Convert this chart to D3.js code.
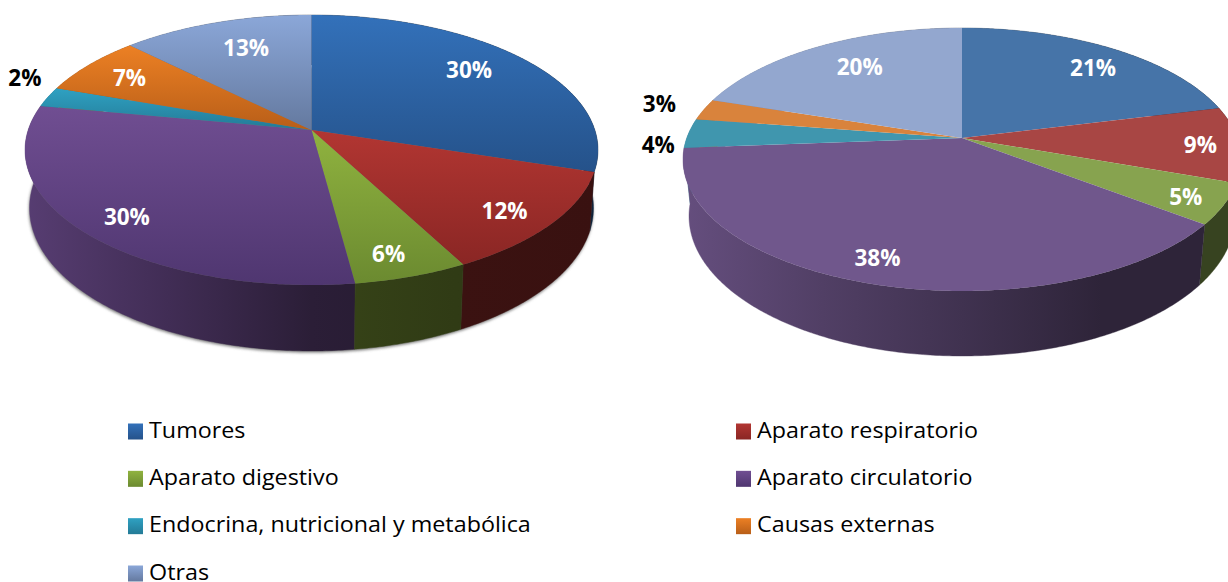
<!DOCTYPE html>
<html>
<head>
<meta charset="utf-8">
<script src="https://cdn.jsdelivr.net/npm/d3@7"></script>
<style>
    body { margin: 0; background: #fff; overflow: hidden; }
    svg { display: block; font-family: "Open Sans", sans-serif; }
</style>
</head>
<body>
<svg id="chart" width="1228" height="582"></svg>
<script>
// datos
const categories = ["Tumores", "Aparato respiratorio", "Aparato digestivo", "Aparato circulatorio",
    "Endocrina, nutricional y metabólica", "Causas externas", "Otras"];
const valuesLeft = [29.9, 12.4, 5.6, 30.1, 2.4, 7.1, 12.5];
const valuesRight = [21.1, 9.3, 5.0, 38.4, 3.6, 2.6, 20.0];

// colores
const leftTop = ["#3371ba", "#b23632", "#90b33f", "#704e92", "#2fa1c2", "#ec8024", "#8ba7d8"];
const leftBottom = ["#25528a", "#8a2624", "#6b8a30", "#4f3670", "#237a96", "#b85e18", "#64799f"];
const rightFace = ["#4674a8", "#a84644", "#87a34f", "#70578c", "#4096ae", "#d9833c", "#93a7cf"];

// etiquetas: radio relativo y giro en grados respecto al centro del sector
const labelRadiusLeft = [0.77, 0.84, 0.86, 0.845, 1.15, 0.8, 0.73];
const labelTurnLeft = [-3.1, 2, 1.5, -2, 5.9, -0.7, 2.1];
const labelRadiusRight = [0.79, 0.86, 0.87, 0.855, 1.095, 1.18, 0.73];
const labelTurnRight = [3.4, 0.9, 1.3, 1.6, -5, 0, 2];
const outsideColor = "#000";

const svg = d3.select("#chart");
const defs = svg.append("defs");

defs.append("filter")
    .attr("id", "rimShadow")
    .attr("x", "-5%").attr("y", "-5%").attr("width", "110%").attr("height", "110%")
    .append("feGaussianBlur")
    .attr("stdDeviation", 1.6);

// proyeccion en perspectiva: el vertice del sector no queda en el centro de la elipse
function projector(cx, rim, k) {
    const R = rim.rx * Math.sqrt(1 - k * k);
    const B = rim.ry * (1 - k * k);
    const apexY = rim.cy - k * rim.ry;
    return (angle, f = 1) => {
        const u = f * Math.sin(angle), v = -f * Math.cos(angle);
        const w = 1 - k * v;
        return [cx + R * u / w, apexY + B * v / w];
    };
}

function rimPoints(project, a0, a1) {
    const n = Math.max(2, Math.ceil((a1 - a0) / 0.01));
    return d3.range(n + 1).map(i => project(a0 + (a1 - a0) * i / n));
}

function faceGradient(id, top, bottom) {
    const g = defs.append("linearGradient").attr("id", id)
        .attr("x1", 0).attr("y1", 0).attr("x2", 0).attr("y2", 1);
    g.append("stop").attr("offset", 0).attr("stop-color", top);
    g.append("stop").attr("offset", 1).attr("stop-color", bottom);
}

function shade(color, f) {
    const c = d3.rgb(color);
    return d3.rgb(c.r * f, c.g * f, c.b * f).formatHex();
}

function drawPie(cfg) {
    const group = svg.append("g");
    const line = d3.line();
    const arcs = d3.pie().sort(null).value(d => d)(cfg.values);
    const top = projector(cfg.cx, cfg.top, cfg.k);
    const bottom = projector(cfg.cx, cfg.bottom, cfg.k);
    const apex = top(0, 0);

    if (cfg.shadow) {
        group.append("path")
            .attr("d", line(rimPoints(bottom, 0, 2 * Math.PI)) + "Z")
            .attr("transform", "translate(-0.5,1.5)")
            .attr("fill", "#777")
            .attr("filter", "url(#rimShadow)");
    }

    // paredes, de atras hacia adelante
    const byDepth = arcs.slice().sort((a, b) =>
        Math.cos((b.startAngle + b.endAngle) / 2) - Math.cos((a.startAngle + a.endAngle) / 2));
    byDepth.forEach(d => {
        const id = `${cfg.id}-wall-${d.index}`;
        const g = defs.append("linearGradient").attr("id", id)
            .attr("gradientUnits", "userSpaceOnUse")
            .attr("x1", cfg.cx - cfg.top.rx).attr("y1", 0)
            .attr("x2", cfg.cx + cfg.top.rx).attr("y2", 0);
        cfg.wallShade.forEach((f, i) => {
            g.append("stop")
                .attr("offset", i / (cfg.wallShade.length - 1))
                .attr("stop-color", shade(cfg.faceTop[d.index], f));
        });
        const upper = rimPoints(top, d.startAngle, d.endAngle);
        const lower = rimPoints(bottom, d.startAngle, d.endAngle).reverse();
        group.append("path")
            .attr("d", line(upper.concat(lower)) + "Z")
            .attr("fill", `url(#${id})`)
            .attr("stroke", `url(#${id})`)
            .attr("stroke-width", 0.4);
    });

    // caras superiores
    arcs.forEach(d => {
        const id = `${cfg.id}-face-${d.index}`;
        faceGradient(id, cfg.faceTop[d.index], cfg.faceBottom[d.index]);
        group.append("path")
            .attr("d", line([apex].concat(rimPoints(top, d.startAngle, d.endAngle))) + "Z")
            .attr("fill", `url(#${id})`);
    });

    // etiquetas
    arcs.forEach(d => {
        const mid = (d.startAngle + d.endAngle) / 2 + cfg.labelTurn[d.index] * Math.PI / 180;
        const f = cfg.labelRadius[d.index];
        const p = top(mid, f);
        group.append("text")
            .attr("x", p[0])
            .attr("y", p[1])
            .attr("dy", "0.34em")
            .attr("text-anchor", "middle")
            .style("font-size", "22.5px")
            .style("font-weight", "bold")
            .style("fill", f > 1 ? outsideColor : "#fff")
            .text(Math.round(d.value) + "%");
    });
}

drawPie({
    id: "left", cx: 311.5, k: 0.148,
    top: { cy: 150, rx: 286.5, ry: 135 },
    bottom: { cy: 208, rx: 282, ry: 143 },
    values: valuesLeft, faceTop: leftTop, faceBottom: leftBottom,
    wallShade: [0.78, 0.58, 0.38, 0.33, 0.32],
    labelRadius: labelRadiusLeft, labelTurn: labelTurnLeft, shadow: true
});

drawPie({
    id: "right", cx: 962, k: 0.1635,
    top: { cy: 159.5, rx: 279, ry: 131.5 },
    bottom: { cy: 216, rx: 273, ry: 140 },
    values: valuesRight, faceTop: rightFace, faceBottom: rightFace,
    wallShade: [0.9, 0.72, 0.57, 0.41, 0.41],
    labelRadius: labelRadiusRight, labelTurn: labelTurnRight, shadow: false
});

// leyenda
const legendRow = d3.scalePoint().domain([0, 1, 2, 3]).range([431, 573]);
const legendCol = d3.scalePoint().domain([0, 1]).range([128, 736]);

const legend = svg.append("g").selectAll("g")
    .data(categories)
    .enter()
    .append("g")
    .attr("transform", (d, i) => `translate(${legendCol(i % 2)},${legendRow(Math.floor(i / 2))})`);

legend.append("rect")
    .attr("y", -7.5)
    .attr("width", 15)
    .attr("height", 16)
    .attr("fill", (d, i) => `url(#left-face-${i})`);

// el texto del original esta algo ensanchado
legend.append("text")
    .attr("transform", "translate(21,0) scale(1.06,1)")
    .attr("dy", "0.3em")
    .style("font-size", "22px")
    .style("fill", "#000")
    .text(d => d);
</script>
</body>
</html>
